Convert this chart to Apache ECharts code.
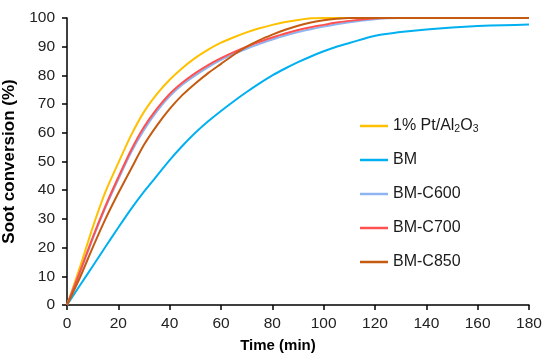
<!DOCTYPE html>
<html>
<head>
<meta charset="utf-8">
<script src="https://cdn.jsdelivr.net/npm/echarts@6/dist/echarts.min.js"></script>
<style>html,body{margin:0;padding:0;background:#fff;}#c{width:550px;height:363px;}</style>
</head>
<body>
<div id="c"></div>
<script>
var seriesNames = ['1% Pt/Al2O3', 'BM', 'BM-C600', 'BM-C700', 'BM-C850'];
var xTicks = [0, 20, 40, 60, 80, 100, 120, 140, 160, 180];
var yTicks = [0, 10, 20, 30, 40, 50, 60, 70, 80, 90, 100];

var time = [0, 5, 10, 15, 20, 25, 30, 35, 40, 45, 50, 55, 60, 65, 70, 75, 80, 85, 90, 95, 100, 105, 110, 115, 120, 125, 130, 140, 150, 160, 170, 180];
var convPt   = [0, 13, 27, 39.5, 49.5, 59.2, 67.3, 73.5, 78.5, 82.6, 86.1, 89, 91.4, 93.3, 95, 96.4, 97.6, 98.6, 99.3, 99.9, 100, 100, 100, 100, 100, 100, 100, 100, 100, 100, 100, 100];
var convBM   = [0, 6.8, 13.5, 20.3, 27, 33.5, 39.5, 45, 50.5, 55.5, 60, 64, 67.6, 71, 74.2, 77.2, 80, 82.4, 84.6, 86.6, 88.4, 90, 91.3, 92.6, 93.8, 94.5, 95.1, 96, 96.7, 97.2, 97.5, 97.7];
var convC600 = [0, 11.2, 23, 34, 43.8, 53.2, 61, 67.5, 72.7, 76.8, 80, 82.9, 85.4, 87.5, 89.3, 91, 92.5, 93.9, 95.1, 96.1, 97, 97.8, 98.5, 99.1, 99.6, 99.9, 100, 100, 100, 100, 100, 100];
var convC700 = [0, 11.5, 23.5, 34.5, 44.5, 54, 62, 68.3, 73.5, 77.5, 80.8, 83.6, 86, 88.1, 90, 91.7, 93.2, 94.6, 95.8, 96.8, 97.6, 98.4, 99, 99.5, 99.9, 100, 100, 100, 100, 100, 100, 100];
var convC850 = [0, 9.5, 20, 30, 39, 47.5, 55.8, 62.5, 68.3, 73.2, 77.2, 80.8, 84, 87.2, 90, 92.3, 94.2, 95.9, 97.3, 98.4, 99.2, 99.7, 100, 100, 100, 100, 100, 100, 100, 100, 100, 100];

var colors = ['#FFC000', '#00B0F0', '#8DB4F0', '#FF5050', '#C55A11'];

function pairs(t, v) { return t.map(function (x, i) { return [x, v[i]]; }); }
var allData = [pairs(time, convPt), pairs(time, convBM), pairs(time, convC600), pairs(time, convC700), pairs(time, convC850)];

var FONT = '"Liberation Sans", Arial, sans-serif';
var chart = echarts.init(document.getElementById('c'), null, { renderer: 'canvas' });
var order = [1, 4, 2, 3, 0]; // draw order
var series = order.map(function (i) {
  return {
    name: seriesNames[i], type: 'line', data: allData[i], symbol: 'none', showSymbol: false,
    smooth: 0.25,
    lineStyle: { color: colors[i], width: 2 }, itemStyle: { color: colors[i] }, z: 2 + i, animation: false
  };
});
chart.setOption({
  animation: false,
  grid: { left: 67, right: 21, top: 18, bottom: 58, containLabel: false, outerBoundsMode: 'none' },
  xAxis: {
    type: 'value', min: 0, max: 180, interval: 20,
    name: 'Time (min)', nameLocation: 'middle', nameGap: 33,
    nameTextStyle: { fontFamily: FONT, fontSize: 15, fontWeight: 'bold', color: '#000', padding: [0, 40, 0, 0] },
    axisLine: { lineStyle: { color: '#000', width: 1.5 } },
    axisTick: { show: true, inside: false, length: 5, lineStyle: { color: '#000', width: 1.5 } },
    axisLabel: { fontFamily: FONT, fontSize: 15.5, color: '#222', margin: 11, formatter: function (v) { return xTicks.indexOf(v) >= 0 ? String(v) : ''; } },
    splitLine: { show: false }
  },
  yAxis: {
    type: 'value', min: 0, max: 100, interval: 10,
    name: 'Soot conversion (%)', nameLocation: 'middle', nameGap: 38, nameRotate: 90,
    nameTextStyle: { fontFamily: FONT, fontSize: 17, fontWeight: 'bold', color: '#000' },
    axisLine: { show: true, lineStyle: { color: '#000', width: 1.5 } },
    axisTick: { show: true, inside: false, length: 5, lineStyle: { color: '#000', width: 1.5 } },
    axisLabel: { fontFamily: FONT, fontSize: 15.5, color: '#222', margin: 12, formatter: function (v) { return yTicks.indexOf(v) >= 0 ? String(v) : ''; } },
    splitLine: { show: false }
  },
  legend: {
    data: seriesNames.map(function (n) { return { name: n, icon: 'rect' }; }),
    orient: 'vertical', left: 355, top: 110,
    itemWidth: 28, itemHeight: 2.5, itemGap: 16,
    textStyle: { fontFamily: FONT, fontSize: 16, color: '#1a1a1a', lineHeight: 18,
      rich: { sub: { fontFamily: FONT, fontSize: 10.5, color: '#1a1a1a', verticalAlign: 'bottom', lineHeight: 18, padding: [9, 0, 0, 0] } } },
    formatter: function (n) { return n === '1% Pt/Al2O3' ? '1% Pt/Al{sub|2}O{sub|3}' : n; }
  },
  series: series
});
</script>
</body>
</html>
